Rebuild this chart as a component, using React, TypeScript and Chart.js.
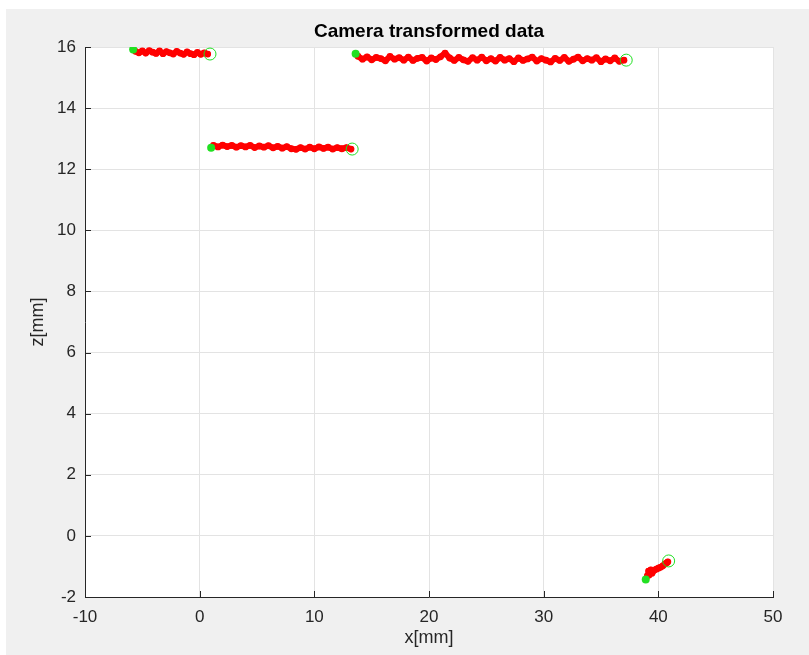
import React, { useEffect, useRef } from "react";
import { Chart, registerables } from "chart.js";

Chart.register(...registerables);

const titleText = "Camera transformed data";
const xLabel = "x[mm]";
const yLabel = "z[mm]";

const xMin = -10;
const xMax = 50;
const xStep = 10;
const yMin = -2;
const yMax = 16;
const yStep = 2;

// Segment 1 (top left)
const seg1X = [-5.6, -5.3, -5.0, -4.7, -4.4, -4.1, -3.8, -3.5, -3.2, -2.9, -2.6, -2.3, -2.0, -1.7, -1.4, -1.1, -0.8, -0.5, -0.2, 0.1, 0.4, 0.7];
const seg1Y = [15.86, 15.81, 15.87, 15.80, 15.88, 15.83, 15.79, 15.87, 15.78, 15.85, 15.81, 15.77, 15.86, 15.80, 15.76, 15.84, 15.78, 15.75, 15.82, 15.76, 15.81, 15.77];

// Segment 2 (top right)
const seg2X = [13.8, 14.2, 14.6, 15.0, 15.4, 15.8, 16.2, 16.6, 17.0, 17.4, 17.8, 18.2, 18.6, 19.0, 19.4, 19.8, 20.2, 20.6, 21.0, 21.4, 21.8, 22.2, 22.6, 23.0, 23.4, 23.8, 24.2, 24.6, 25.0, 25.4, 25.8, 26.2, 26.6, 27.0, 27.4, 27.8, 28.2, 28.6, 29.0, 29.4, 29.8, 30.2, 30.6, 31.0, 31.4, 31.8, 32.2, 32.6, 33.0, 33.4, 33.8, 34.2, 34.6, 35.0, 35.4, 35.8, 36.2, 36.6, 37.0];
const seg2Y = [15.70, 15.60, 15.68, 15.58, 15.66, 15.62, 15.55, 15.69, 15.60, 15.65, 15.57, 15.67, 15.56, 15.63, 15.66, 15.54, 15.64, 15.59, 15.68, 15.80, 15.64, 15.56, 15.66, 15.58, 15.53, 15.65, 15.57, 15.67, 15.55, 15.62, 15.54, 15.66, 15.57, 15.62, 15.52, 15.64, 15.56, 15.61, 15.67, 15.54, 15.62, 15.57, 15.51, 15.63, 15.56, 15.66, 15.53, 15.60, 15.67, 15.55, 15.62, 15.57, 15.65, 15.52, 15.61, 15.55, 15.64, 15.53, 15.57];

// Segment 3 (middle)
const seg3X = [1.2, 1.6, 2.0, 2.4, 2.8, 3.2, 3.6, 4.0, 4.4, 4.8, 5.2, 5.6, 6.0, 6.4, 6.8, 7.2, 7.6, 8.0, 8.4, 8.8, 9.2, 9.6, 10.0, 10.4, 10.8, 11.2, 11.6, 12.0, 12.4, 12.8, 13.2];
const seg3Y = [12.78, 12.73, 12.79, 12.74, 12.78, 12.72, 12.77, 12.73, 12.78, 12.71, 12.76, 12.72, 12.77, 12.70, 12.75, 12.69, 12.74, 12.67, 12.65, 12.71, 12.66, 12.72, 12.67, 12.73, 12.68, 12.72, 12.66, 12.71, 12.67, 12.71, 12.66];

// Segment 4 (bottom right)
const seg4X = [39.05, 39.2, 39.15, 39.3, 39.45, 39.35, 39.55, 39.7, 39.87, 40.04, 40.22, 40.39, 40.57, 40.74, 40.83];
const seg4Y = [-1.30, -1.28, -1.15, -1.18, -1.22, -1.11, -1.15, -1.11, -1.08, -1.05, -1.02, -0.98, -0.92, -0.88, -0.85];

const startX = [-5.8, 13.6, 1.0, 38.9];
const startY = [15.92, 15.78, 12.70, -1.43];
const endX = [0.9, 37.2, 13.3, 40.9];
const endY = [15.77, 15.57, 12.66, -0.82];

const zip = (xs: number[], ys: number[]) => xs.map((x, i) => ({ x, y: ys[i] }));

const FONT = "'Liberation Sans', Arial, Helvetica, sans-serif";
const RED = "#ff0000";
const GREEN = "#22e022";
const TEXT = "#262626";

export default function App() {
  const ref = useRef<HTMLCanvasElement>(null);

  useEffect(() => {
    const canvas = ref.current;
    if (!canvas) return;

    const axesPlugin = {
      id: "axesDecor",
      beforeDraw(chart: any) {
        const { ctx, chartArea: a } = chart;
        ctx.save();
        ctx.fillStyle = "#ffffff";
        ctx.fillRect(a.left, a.top, a.right - a.left, a.bottom - a.top);
        ctx.restore();
      },
      afterDraw(chart: any) {
        const { ctx, chartArea: a, scales } = chart;
        ctx.save();
        ctx.strokeStyle = TEXT;
        ctx.lineWidth = 1;
        ctx.beginPath();
        scales.x.ticks.forEach((t: any) => {
          const px = Math.round(scales.x.getPixelForValue(t.value)) + 0.5;
          ctx.moveTo(px, a.bottom);
          ctx.lineTo(px, a.bottom - 6);
        });
        scales.y.ticks.forEach((t: any) => {
          const py = Math.round(scales.y.getPixelForValue(t.value)) + 0.5;
          ctx.moveTo(a.left, py);
          ctx.lineTo(a.left + 6, py);
        });
        ctx.stroke();
        ctx.fillStyle = "#000000";
        ctx.font = `bold 19px ${FONT}`;
        ctx.textAlign = "center";
        ctx.textBaseline = "middle";
        ctx.fillText(titleText, (a.left + a.right) / 2, 23);
        ctx.restore();
      },
    };

    const segStyle = {
      showLine: true,
      borderColor: RED,
      backgroundColor: RED,
      borderWidth: 6,
      borderJoinStyle: "round" as const,
      borderCapStyle: "round" as const,
      pointRadius: 3.4,
      pointBorderWidth: 0,
      pointBackgroundColor: RED,
      order: 2,
    };

    const chart = new Chart(canvas, {
      type: "scatter",
      data: {
        datasets: [
          {
            label: "start",
            data: zip(startX, startY),
            pointRadius: 4,
            pointBorderWidth: 0,
            pointBackgroundColor: GREEN,
            backgroundColor: GREEN,
            order: 0,
          },
          {
            label: "end",
            data: zip(endX, endY),
            pointRadius: 6,
            pointBorderWidth: 1,
            pointBorderColor: GREEN,
            borderColor: GREEN,
            pointBackgroundColor: "rgba(0,0,0,0)",
            backgroundColor: "rgba(0,0,0,0)",
            order: 1,
          },
          { label: "s1", data: zip(seg1X, seg1Y), ...segStyle },
          { label: "s2", data: zip(seg2X, seg2Y), ...segStyle },
          { label: "s3", data: zip(seg3X, seg3Y), ...segStyle },
          { label: "s4", data: zip(seg4X, seg4Y), ...segStyle },
        ],
      },
      options: {
        animation: false,
        responsive: false,
        devicePixelRatio: 1,
        layout: { padding: { top: 38, left: 0, right: 36, bottom: 0 } },
        plugins: {
          legend: { display: false },
          tooltip: { enabled: false },
          title: { display: false },
        },
        scales: {
          x: {
            type: "linear",
            min: xMin,
            max: xMax,
            ticks: {
              stepSize: xStep,
              color: TEXT,
              font: { size: 17, family: FONT },
              padding: 10,
              maxRotation: 0,
            },
            grid: { color: "#e3e3e3", drawTicks: false },
            border: { color: TEXT, width: 1 },
            title: {
              display: true,
              text: xLabel,
              color: TEXT,
              font: { size: 18, family: FONT },
              padding: { top: 0, bottom: 6 },
            },
            afterFit: (s: any) => {
              s.height = 58;
            },
          },
          y: {
            type: "linear",
            min: yMin,
            max: yMax,
            ticks: {
              stepSize: yStep,
              color: TEXT,
              font: { size: 17, family: FONT },
              padding: 9,
            },
            grid: { color: "#e3e3e3", drawTicks: false },
            border: { color: TEXT, width: 1 },
            title: {
              display: true,
              text: yLabel,
              color: TEXT,
              font: { size: 18, family: FONT },
              padding: { top: 21, bottom: 0 },
            },
            afterFit: (s: any) => {
              s.width = 79;
            },
          },
        },
      },
      plugins: [axesPlugin],
    });

    return () => chart.destroy();
  }, []);

  return (
    <div style={{ position: "fixed", left: 0, top: 0, width: 809, height: 655, background: "#ffffff", overflow: "hidden" }}>
      <div style={{ position: "absolute", left: 6, top: 9, width: 803, height: 646, background: "#f0f0f0" }}>
        <canvas ref={ref} width={803} height={646} style={{ display: "block", width: 803, height: 646 }} />
      </div>
    </div>
  );
}
